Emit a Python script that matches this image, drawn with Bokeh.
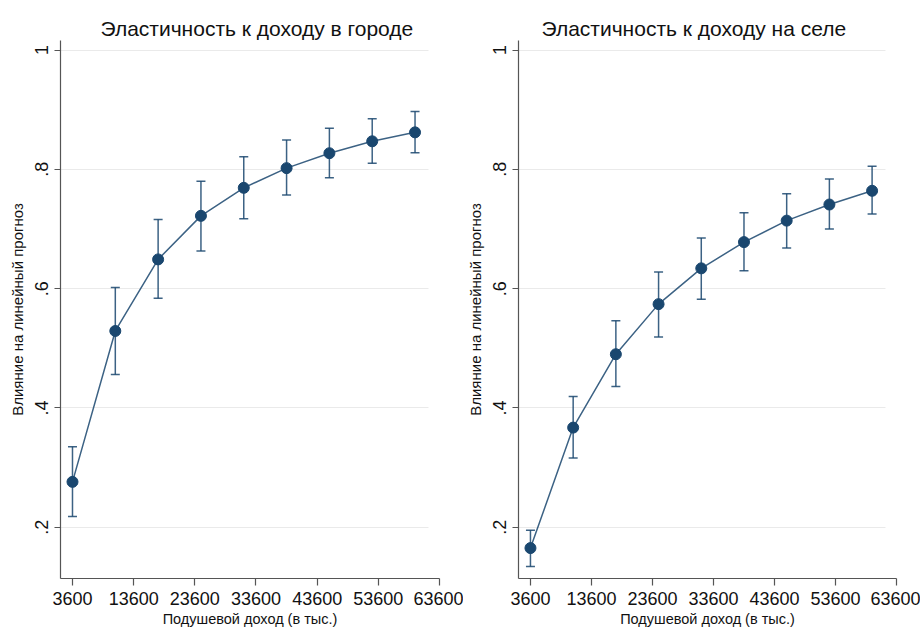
from bokeh.plotting import figure
from bokeh.models import ColumnDataSource, Whisker, TeeHead, FixedTicker, Range1d
from bokeh.layouts import row
from bokeh.embed import file_html
from bokeh.resources import INLINE

# ---- data ----
income = [3600, 10600, 17600, 24600, 31600, 38600, 45600, 52600, 59600]

city_est = [0.276, 0.529, 0.649, 0.722, 0.769, 0.802, 0.827, 0.847, 0.862]
city_lo = [0.218, 0.456, 0.584, 0.663, 0.717, 0.757, 0.786, 0.810, 0.828]
city_hi = [0.335, 0.602, 0.716, 0.780, 0.821, 0.849, 0.869, 0.885, 0.897]

rural_est = [0.165, 0.367, 0.490, 0.574, 0.634, 0.678, 0.714, 0.741, 0.764]
rural_lo = [0.134, 0.316, 0.436, 0.519, 0.582, 0.630, 0.668, 0.700, 0.725]
rural_hi = [0.195, 0.419, 0.546, 0.628, 0.685, 0.727, 0.759, 0.784, 0.805]

x_ticks = [3600, 13600, 23600, 33600, 43600, 53600, 63600]
y_ticks = [0.2, 0.4, 0.6, 0.8, 1.0]
y_tick_labels = [".2", ".4", ".6", ".8", "1"]

titles = ["Эластичность к доходу в городе", "Эластичность к доходу на селе"]
x_label = "Подушевой доход (в тыс.)"
y_label = "Влияние на линейный прогноз"

NAVY = "#1a476f"
FONT = "Liberation Sans"
X0, X1, XEND = 1640, 61770, 63600
Y0, Y1 = 0.114, 1.016


def make_panel(title, est, lo, hi, width, border_left, border_right, title_offset):
    p = figure(width=width, height=629, output_backend="svg", toolbar_location=None,
               x_range=Range1d(X0, XEND), y_range=Range1d(Y0, Y1),
               min_border_left=border_left, min_border_right=border_right,
               min_border_top=40, min_border_bottom=51)
    p.outline_line_color = None
    p.background_fill_color = "white"
    p.border_fill_color = "white"

    p.title.text = title
    p.title.text_font = FONT
    p.title.text_font_size = "21px"
    p.title.text_font_style = "normal"
    p.title.text_color = "#111111"
    p.title.align = "left"
    p.title.offset = title_offset
    p.title.standoff = 2

    src = ColumnDataSource(dict(x=income, y=est, lo=lo, hi=hi))
    w = Whisker(base="x", upper="hi", lower="lo", source=src, dimension="height",
                line_color=NAVY, line_width=1.5, line_alpha=0.85,
                upper_head=TeeHead(size=9, line_color=NAVY, line_width=1.5, line_alpha=0.85),
                lower_head=TeeHead(size=9, line_color=NAVY, line_width=1.5, line_alpha=0.85))
    w.level = "underlay"
    p.add_layout(w)
    p.line("x", "y", source=src, line_color=NAVY, line_width=1.5, line_alpha=0.85)
    p.scatter("x", "y", source=src, size=11, fill_color=NAVY, line_color=NAVY)

    for ax in (p.xaxis[0], p.yaxis[0]):
        ax.axis_line_color = "#555555"
        ax.axis_line_width = 1.2
        ax.major_tick_line_color = "#555555"
        ax.major_tick_line_width = 1.2
        ax.minor_tick_line_color = None
        ax.major_tick_in = 0
        ax.major_label_text_font = FONT
        ax.major_label_text_font_size = "18px"
        ax.major_label_text_color = "#111111"
        ax.axis_label_text_font = FONT
        ax.axis_label_text_font_style = "normal"
        ax.axis_label_text_color = "#111111"

    xa = p.xaxis[0]
    xa.ticker = FixedTicker(ticks=x_ticks)
    xa.major_tick_out = 7
    xa.major_label_standoff = 6
    xa.axis_label = x_label
    xa.axis_label_text_font_size = "14.5px"
    xa.axis_label_standoff = 3

    ya = p.yaxis[0]
    ya.ticker = FixedTicker(ticks=y_ticks)
    ya.major_label_overrides = {t: l for t, l in zip(y_ticks, y_tick_labels)}
    ya.major_label_orientation = "vertical"
    ya.major_tick_out = 6
    ya.major_label_standoff = 6
    ya.axis_label = y_label
    ya.axis_label_text_font_size = "15px"
    ya.axis_label_standoff = 7

    g = p.ygrid[0]
    p.xgrid.grid_line_color = None
    g.grid_line_color = "#eaeaea"
    g.grid_line_width = 1
    g.ticker = FixedTicker(ticks=y_ticks)
    if "cross_bounds" in g.properties():
        g.cross_bounds = (X0, X1)
    return p


p1 = make_panel(titles[0], city_est, city_lo, city_hi, 463, 60, 24, 40)
p2 = make_panel(titles[1], rural_est, rural_lo, rural_hi, 457, 54, 24, 23)

layout = row(p1, p2)
open("out.html", "w").write(file_html(layout, INLINE))
